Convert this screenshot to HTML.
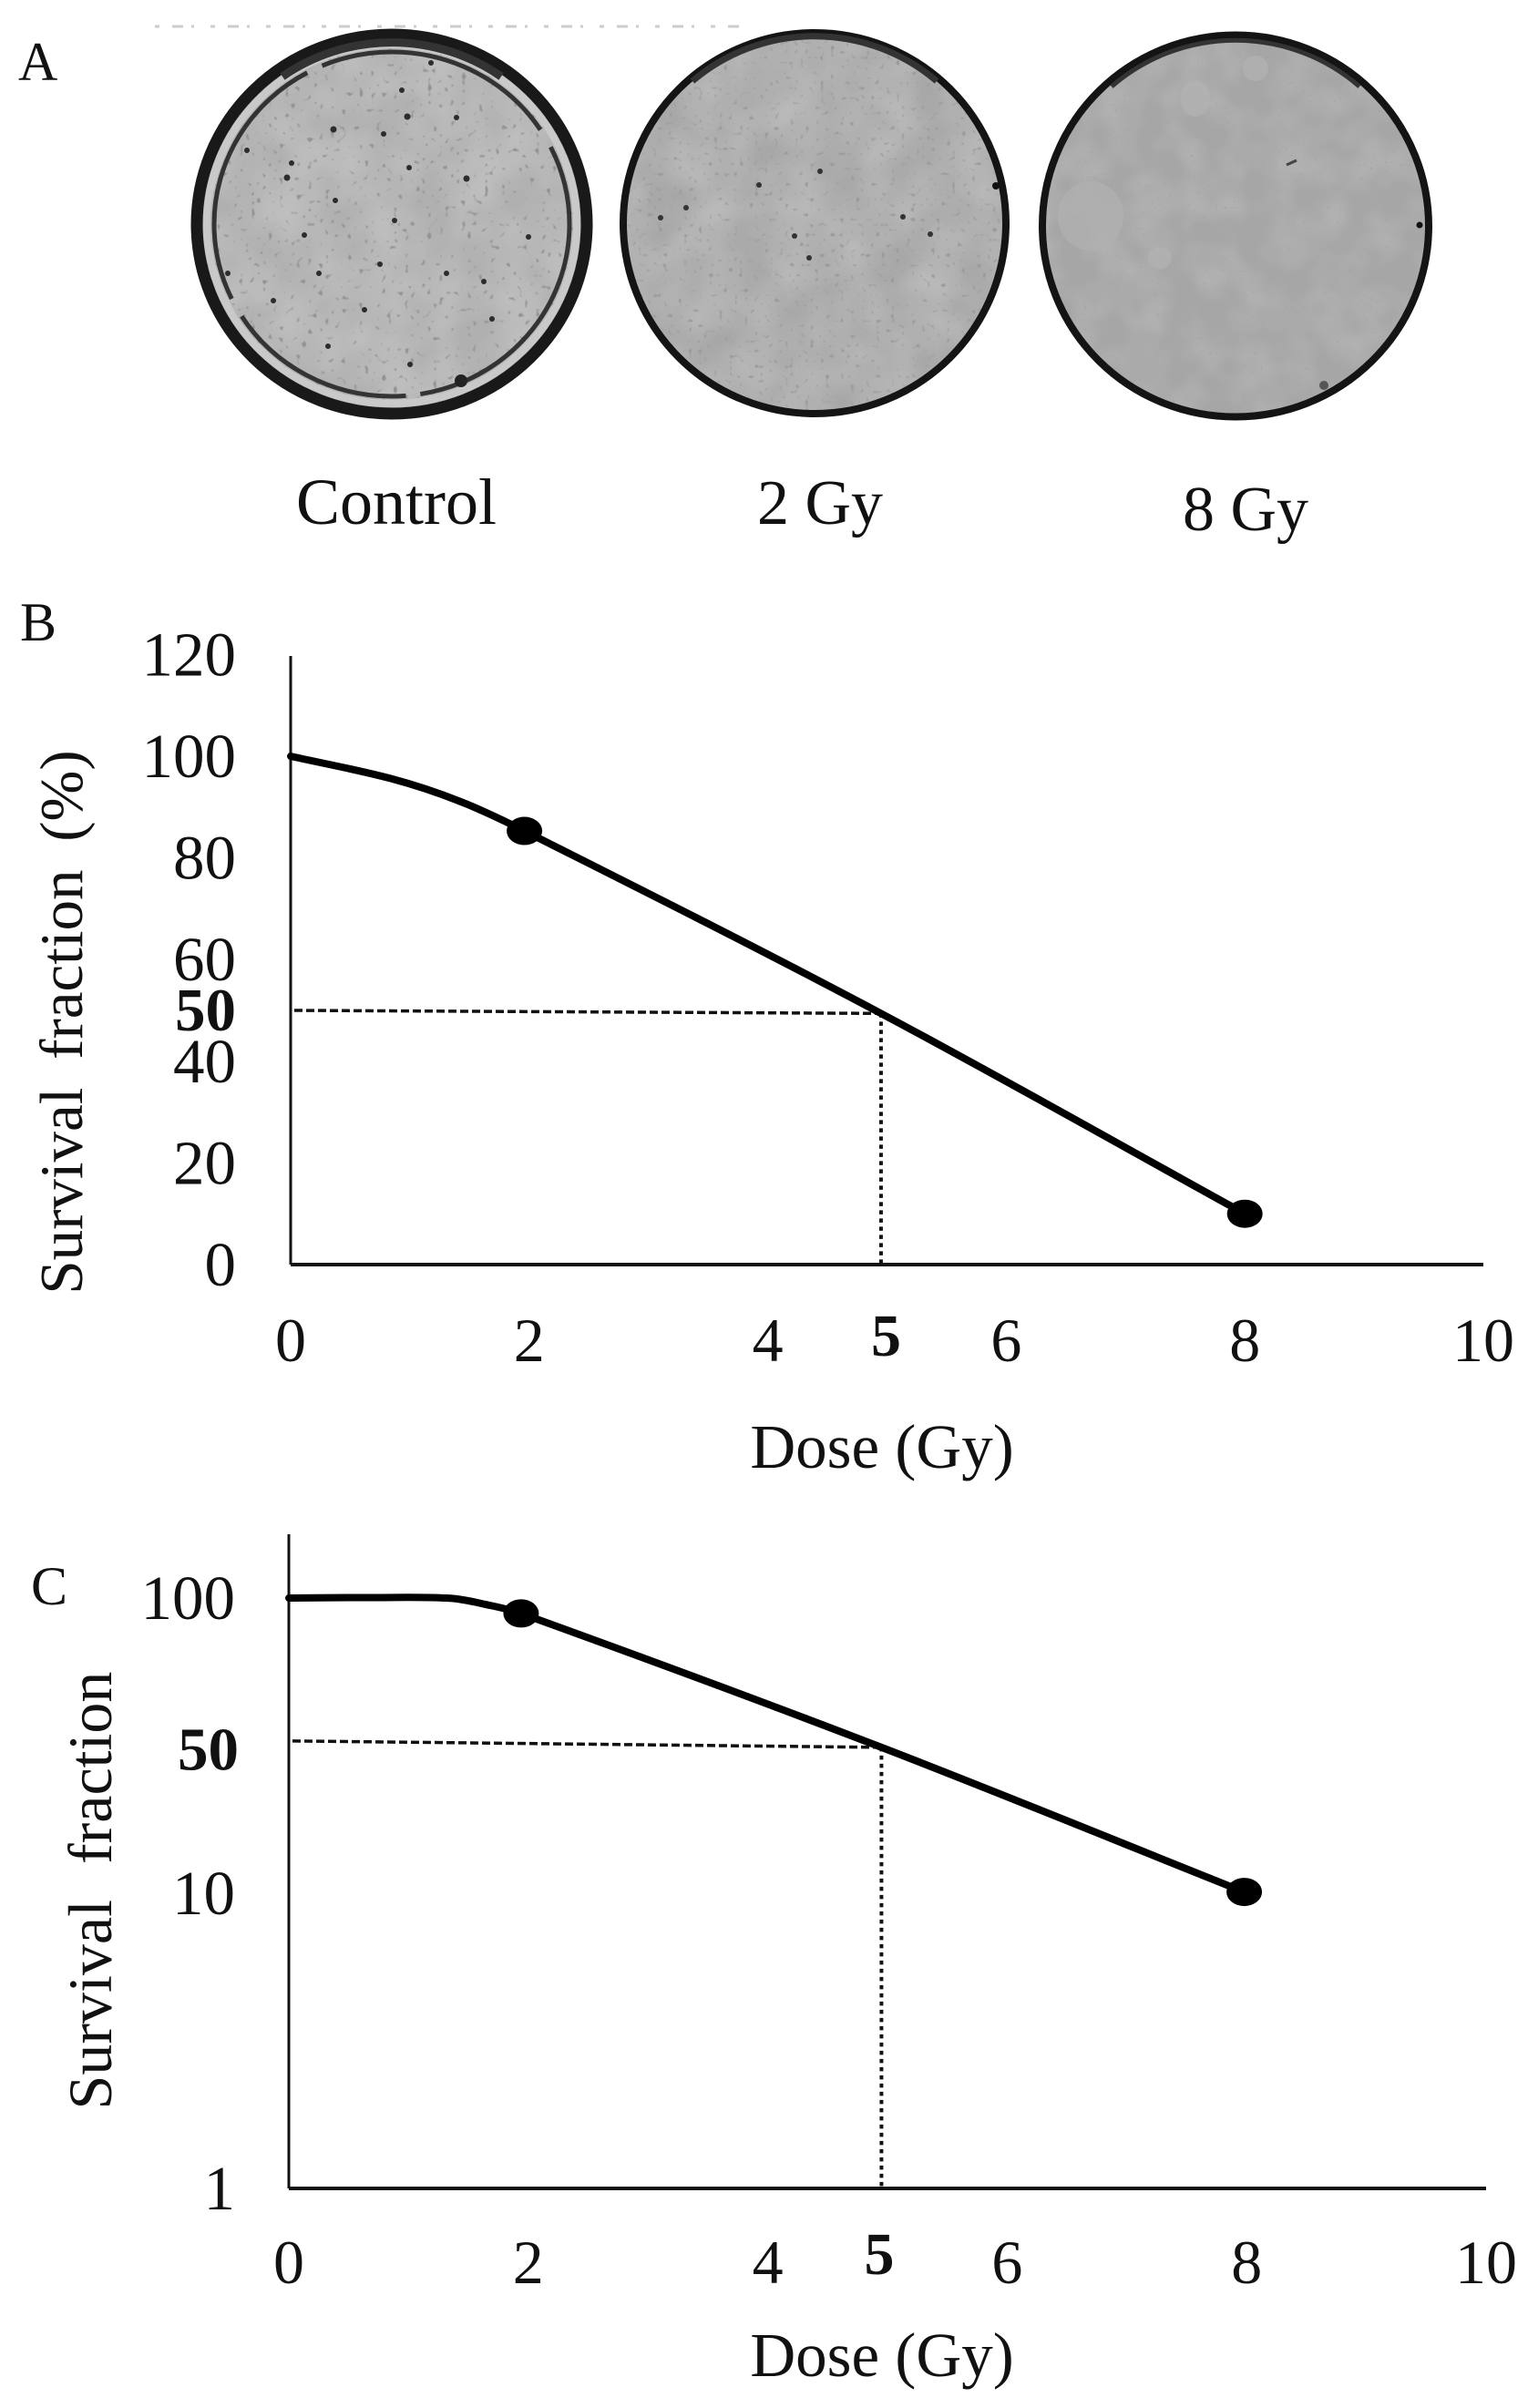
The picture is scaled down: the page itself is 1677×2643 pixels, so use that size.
<!DOCTYPE html>
<html lang="en">
<head>
<meta charset="utf-8">
<title>Clonogenic survival figure</title>
<style>
html,body{margin:0;padding:0;background:#fff;}
svg{display:block;}
text{font-family:"Liberation Serif",serif;fill:#111;}
</style>
</head>
<body>
<svg id="fig" xmlns="http://www.w3.org/2000/svg" width="1677" height="2643" viewBox="0 0 1677 2643">
<defs>
<filter id="plateTex" x="0" y="0" width="100%" height="100%">
<feTurbulence type="fractalNoise" baseFrequency="0.02" numOctaves="2" seed="4" result="blotch"/>
<feColorMatrix in="blotch" type="matrix" values="0 0 0 0 0.62  0 0 0 0 0.62  0 0 0 0 0.62  0.8 0 0 0 -0.2" result="soft"/>
<feTurbulence type="fractalNoise" baseFrequency="0.16" numOctaves="1" seed="9" result="fine"/>
<feColorMatrix in="fine" type="matrix" values="0 0 0 0 0.3  0 0 0 0 0.3  0 0 0 0 0.3  9 0 0 0 -5.7" result="dots"/>
<feMerge><feMergeNode in="SourceGraphic"/><feMergeNode in="soft"/><feMergeNode in="dots"/></feMerge>
<feComposite in2="SourceGraphic" operator="in"/>
</filter>
<filter id="plateTexLight" x="0" y="0" width="100%" height="100%">
<feTurbulence type="fractalNoise" baseFrequency="0.02" numOctaves="2" seed="17" result="blotch"/>
<feColorMatrix in="blotch" type="matrix" values="0 0 0 0 0.6  0 0 0 0 0.6  0 0 0 0 0.6  0.8 0 0 0 -0.2" result="soft"/>
<feTurbulence type="fractalNoise" baseFrequency="0.18" numOctaves="1" seed="23" result="fine"/>
<feColorMatrix in="fine" type="matrix" values="0 0 0 0 0.33  0 0 0 0 0.33  0 0 0 0 0.33  8 0 0 0 -5.1" result="dots"/>
<feMerge><feMergeNode in="SourceGraphic"/><feMergeNode in="soft"/><feMergeNode in="dots"/></feMerge>
<feComposite in2="SourceGraphic" operator="in"/>
</filter>
<filter id="plateTexFaint" x="0" y="0" width="100%" height="100%">
<feTurbulence type="fractalNoise" baseFrequency="0.025" numOctaves="2" seed="31" result="blotch"/>
<feColorMatrix in="blotch" type="matrix" values="0 0 0 0 0.68  0 0 0 0 0.68  0 0 0 0 0.68  0.45 0 0 0 -0.15" result="soft"/>
<feTurbulence type="fractalNoise" baseFrequency="0.3" numOctaves="1" seed="37" result="fine"/>
<feColorMatrix in="fine" type="matrix" values="0 0 0 0 0.38  0 0 0 0 0.38  0 0 0 0 0.38  7 0 0 0 -4.5" result="dots"/>
<feMerge><feMergeNode in="SourceGraphic"/><feMergeNode in="soft"/><feMergeNode in="dots"/></feMerge>
<feComposite in2="SourceGraphic" operator="in"/>
</filter>
</defs>

<g>
<text x="20" y="88" font-size="60">A</text>
<line x1="170" y1="29" x2="820" y2="29" stroke="#ccc" stroke-width="3" stroke-dasharray="5 14 12 9 3 18"/>

<g>
<ellipse cx="430" cy="246" rx="216" ry="210" fill="#b0b0b0" filter="url(#plateTex)"/>
<ellipse cx="430" cy="246" rx="203" ry="197" fill="none" stroke="#c9c9c9" stroke-width="8"/>
<ellipse cx="430" cy="246" rx="214" ry="208" fill="none" stroke="#191919" stroke-width="13"/>
<ellipse cx="430" cy="246" rx="195" ry="189" fill="none" stroke="#333" stroke-width="5" stroke-dasharray="270 16 210 22 290 18 270 22"/>
<path d="M310 84 A206 200 0 0 1 550 84" fill="none" stroke="#333" stroke-width="9"/>
<g fill="#2c2c2c">
<circle cx="315" cy="195" r="3.5"/><circle cx="366" cy="142" r="3.5"/><circle cx="447" cy="128" r="3.5"/><circle cx="501" cy="129" r="3"/><circle cx="441" cy="99" r="3"/><circle cx="271" cy="165" r="3"/><circle cx="368" cy="220" r="3"/><circle cx="334" cy="258" r="3"/><circle cx="433" cy="242" r="3"/><circle cx="449" cy="184" r="3"/><circle cx="421" cy="147" r="3"/><circle cx="512" cy="196" r="3.5"/><circle cx="473" cy="69" r="3"/><circle cx="320" cy="179" r="3"/><circle cx="531" cy="309" r="3"/><circle cx="417" cy="290" r="3"/><circle cx="300" cy="330" r="3"/><circle cx="360" cy="380" r="3"/><circle cx="450" cy="400" r="3"/><circle cx="540" cy="350" r="3"/><circle cx="580" cy="260" r="3"/><circle cx="250" cy="300" r="3"/><circle cx="400" cy="340" r="3"/><circle cx="490" cy="300" r="3"/><circle cx="350" cy="300" r="3"/>
</g>
<circle cx="506" cy="418" r="7" fill="#222"/>
</g>

<g>
<ellipse cx="894" cy="245" rx="211" ry="210" fill="#a8a8a8" filter="url(#plateTexLight)"/>
<ellipse cx="894" cy="245" rx="210" ry="209" fill="none" stroke="#141414" stroke-width="8"/>
<path d="M760 89 A206 205 0 0 1 1028 89" fill="none" stroke="#333" stroke-width="7"/>
<g fill="#333">
<circle cx="753" cy="228" r="3"/><circle cx="872" cy="259" r="3"/><circle cx="991" cy="238" r="3"/><circle cx="1021" cy="257" r="3"/><circle cx="900" cy="188" r="3"/><circle cx="833" cy="203" r="3"/><circle cx="888" cy="283" r="3"/><circle cx="725" cy="239" r="3"/>
</g>
<circle cx="1093" cy="204" r="4" fill="#111"/>
</g>

<g>
<ellipse cx="1356" cy="248" rx="212" ry="210" fill="#a6a6a6" filter="url(#plateTexFaint)"/>
<ellipse cx="1197" cy="237" rx="36" ry="38" fill="#b0b0b0" opacity="0.8"/>
<ellipse cx="1312" cy="108" rx="16" ry="20" fill="#b2b2b2" opacity="0.8"/>
<ellipse cx="1378" cy="75" rx="14" ry="14" fill="#b2b2b2" opacity="0.8"/>
<ellipse cx="1273" cy="283" rx="13" ry="12" fill="#b2b2b2" opacity="0.8"/>
<ellipse cx="1356" cy="248" rx="212" ry="209.5" fill="none" stroke="#141414" stroke-width="8"/>
<path d="M1220 95 A206 204 0 0 1 1492 95" fill="none" stroke="#333" stroke-width="5"/>
<circle cx="1558" cy="247" r="3.5" fill="#111"/>
<circle cx="1453" cy="423" r="5" fill="#555"/>
<line x1="1412" y1="181" x2="1423" y2="176" stroke="#444" stroke-width="3"/>
</g>

<text x="435" y="575" font-size="72" text-anchor="middle">Control</text>
<text x="900" y="575" font-size="70" text-anchor="middle">2 Gy</text>
<text x="1367" y="582" font-size="70" text-anchor="middle">8 Gy</text>
</g>

<text x="22" y="703" font-size="60">B</text>
<text x="34" y="1761" font-size="60">C</text>
<g id="chartB"></g>
<g id="chartC"></g>
</svg>

<script>
// Panel B data (linear axis)
const doseTicks = [0, 2, 4, 6, 8, 10];
const highlightDose = 5;
const linearTicks = [0, 20, 40, 60, 80, 100, 120];
const linearHighlightTick = 50;
const linearDoses = [0, 0.84, 1.41, 1.96, 4.95, 8];
const linearSurvival = [100, 95.6, 91.2, 85.3, 49.4, 10];
const linearMeasuredDoses = [1.96, 8];
const linearMeasuredSurvival = [85.3, 10];
const linearGuideDose = 4.95;
const linearGuideValues = [50, 49.4];

// Panel C data (log axis)
const logTickValues = [1, 10, 100];
const logTickLabels = ['1', '10', '100'];
const logHighlightValue = 32;
const logHighlightLabel = '50';
const logDoses = [0, 0.7, 1.35, 1.65, 1.94, 4.95, 7.98];
const logSurvival = [100, 100.4, 99.8, 95, 88.7, 31.2, 10.1];
const logMeasuredDoses = [1.94, 7.98];
const logMeasuredSurvival = [88.7, 10.1];
const logGuideDose = 4.95;
const logGuideValues = [32.8, 31.2];

const NS = 'http://www.w3.org/2000/svg';
function make(parent, tag, attrs, content) {
  const el = document.createElementNS(NS, tag);
  for (const k in attrs) el.setAttribute(k, attrs[k]);
  if (content !== undefined) el.textContent = content;
  parent.appendChild(el);
  return el;
}
function smoothPath(pts) {
  let d = 'M' + pts[0][0] + ' ' + pts[0][1];
  for (let i = 0; i < pts.length - 1; i++) {
    const p0 = pts[Math.max(i - 1, 0)], p1 = pts[i], p2 = pts[i + 1], p3 = pts[Math.min(i + 2, pts.length - 1)];
    const len = Math.hypot(p2[0] - p1[0], p2[1] - p1[1]);
    const l1 = Math.hypot(p2[0] - p0[0], p2[1] - p0[1]) || 1;
    const l2 = Math.hypot(p3[0] - p1[0], p3[1] - p1[1]) || 1;
    const c1 = [p1[0] + (p2[0] - p0[0]) / l1 * len / 3, p1[1] + (p2[1] - p0[1]) / l1 * len / 3];
    const c2 = [p2[0] - (p3[0] - p1[0]) / l2 * len / 3, p2[1] - (p3[1] - p1[1]) / l2 * len / 3];
    d += ' C' + c1[0] + ' ' + c1[1] + ' ' + c2[0] + ' ' + c2[1] + ' ' + p2[0] + ' ' + p2[1];
  }
  return d;
}

function drawCommon(g, x, y, o) {
  let el;
  el = make(g, 'line', {x1: o.left, y1: o.top, x2: o.left, y2: o.bottom, stroke: '#111', 'stroke-width': 3});
  
  
  el = make(g, 'line', {x1: o.left, y1: o.bottom, x2: o.right, y2: o.bottom, stroke: '#111', 'stroke-width': 4});
  
  
  doseTicks.forEach(function (t) {
    const label = make(g, 'text', {x: x(t), y: o.xLabelY, 'font-size': 68, 'text-anchor': 'middle'}, String(t));
    
    
  });
  el = make(g, 'text', {x: x(highlightDose) + o.boldDx, y: o.xLabelY + o.boldDy, 'font-size': 66, 'font-weight': 'bold', 'text-anchor': 'middle'}, String(highlightDose));
  
  
  el = make(g, 'text', {x: o.xTitleX, y: o.xTitleY, 'font-size': 69, 'text-anchor': 'middle'}, 'Dose (Gy)');
  
  
}
function drawSeries(g, x, y, doses, values, mDoses, mValues, guideDose, guideValues, o) {
  let el;
  el = make(g, 'line', {x1: x(0) + 4, y1: y(guideValues[0]), x2: x(guideDose), y2: y(guideValues[1]), stroke: '#111', 'stroke-width': 3.5, 'stroke-dasharray': '9 4'});
  
  
  el = make(g, 'line', {x1: x(guideDose), y1: y(guideValues[1]), x2: x(guideDose), y2: o.bottom, stroke: '#111', 'stroke-width': 4, 'stroke-dasharray': '4.5 4.5'});
  
  
  const pts = doses.map(function (d, i) { return [x(d), y(values[i])]; });
  el = make(g, 'path', {d: smoothPath(pts), fill: 'none', stroke: '#000', 'stroke-width': 8, 'stroke-linecap': 'round'});
  
  
  mDoses.forEach(function (d, i) {
    const m = make(g, 'ellipse', {cx: x(d), cy: y(mValues[i]), rx: 19.5, ry: 15.5, fill: '#000'});
    
    
  });
}

// Chart B
(function () {
  const g = document.getElementById('chartB');
  const o = {left: 319, right: 1628, top: 720, bottom: 1388, xLabelY: 1494, boldDx: -1, boldDy: -6, xTitleX: 968, xTitleY: 1611};
  const x = function (d) { return o.left + d * 130.9; };
  const y = function (v) { return o.bottom - v * 5.58; };
  drawCommon(g, x, y, o);
  linearTicks.forEach(function (t) {
    const label = make(g, 'text', {x: 259, y: y(t) + 23, 'font-size': 69, 'text-anchor': 'end'}, String(t));
    
    
  });
  let el = make(g, 'text', {x: 259, y: y(linearHighlightTick) + 22, 'font-size': 67, 'font-weight': 'bold', 'text-anchor': 'end'}, String(linearHighlightTick));
  
  
  el = make(g, 'text', {transform: 'translate(90 1122) rotate(-90)', 'font-size': 67, 'text-anchor': 'middle', 'word-spacing': 14}, 'Survival fraction (%)');
  
  
  drawSeries(g, x, y, linearDoses, linearSurvival, linearMeasuredDoses, linearMeasuredSurvival, linearGuideDose, linearGuideValues, o);
})();

// Chart C
(function () {
  const g = document.getElementById('chartC');
  const o = {left: 317, right: 1631, top: 1684, bottom: 2402, xLabelY: 2506, boldDx: -9, boldDy: -10, xTitleX: 968, xTitleY: 2608};
  const x = function (d) { return o.left + d * 131.4; };
  const y = function (v) { return o.bottom - Math.log10(v) * 324; };
  drawCommon(g, x, y, o);
  logTickValues.forEach(function (t, i) {
    const label = make(g, 'text', {x: 258, y: y(t) + 23, 'font-size': 69, 'text-anchor': 'end'}, logTickLabels[i]);
    
    
  });
  let el = make(g, 'text', {x: 262, y: y(logHighlightValue) + 28, 'font-size': 67, 'font-weight': 'bold', 'text-anchor': 'end'}, logHighlightLabel);
  
  
  el = make(g, 'text', {transform: 'translate(122 2075) rotate(-90)', 'font-size': 68, 'text-anchor': 'middle', 'word-spacing': 22}, 'Survival fraction');
  
  
  drawSeries(g, x, y, logDoses, logSurvival, logMeasuredDoses, logMeasuredSurvival, logGuideDose, logGuideValues, o);
})();
</script>
</body>
</html>
